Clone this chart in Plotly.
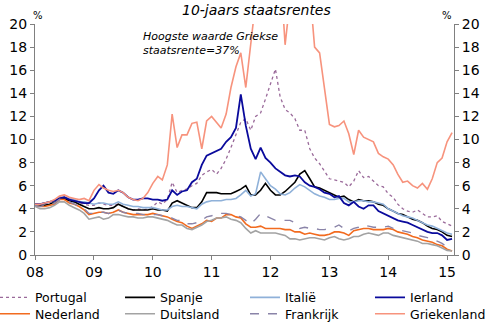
import pandas as pd
import plotly.graph_objects as go

dates = pd.date_range("2008-01-01", "2015-02-01", freq="MS")

portugal = [4.4, 4.4, 4.5, 4.6, 4.7, 5.0, 5.0, 4.8, 4.7, 4.5, 4.4, 4.3,
            4.3, 4.5, 4.4, 4.3, 4.3, 4.4, 4.2, 4.0, 3.9, 4.0, 3.9, 4.0,
            4.2, 4.6, 4.4, 4.8, 6.3, 5.4, 5.6, 5.7, 6.0, 6.2, 6.9, 7.2,
            7.4, 7.0, 7.5, 8.3, 9.3, 10.5, 11.5, 11.8, 10.8, 12.0, 12.3, 13.5,
            14.8, 16.1, 13.7, 12.6, 12.3, 11.8, 10.8, 10.8, 9.2, 8.4, 7.9, 7.2,
            6.6, 6.5, 6.4, 6.3, 5.9, 6.4, 7.3, 6.7, 6.8, 6.4, 6.0, 5.9,
            5.3, 5.0, 4.4, 4.0, 3.8, 3.7, 3.9, 3.6, 3.3, 3.3, 3.4, 2.9,
            2.7, 2.5]
spanje = [4.3, 4.3, 4.3, 4.4, 4.6, 4.9, 4.9, 4.7, 4.6, 4.4, 4.2, 4.0,
          4.0, 4.1, 4.0, 4.0, 4.1, 4.4, 4.2, 4.0, 3.9, 3.9, 3.9, 3.9,
          4.0, 3.9, 3.9, 3.8, 4.5, 4.7, 4.5, 4.3, 4.1, 4.1, 4.6, 5.4,
          5.4, 5.4, 5.3, 5.3, 5.3, 5.5, 5.7, 6.0, 5.2, 5.2, 5.6, 6.2,
          5.6, 5.2, 5.2, 5.5, 5.9, 6.3, 7.0, 7.3, 6.6, 5.9, 5.8, 5.6,
          5.4, 5.2, 5.0, 5.1, 4.8, 4.6, 4.8, 4.7, 4.7, 4.6, 4.4, 4.3,
          4.0, 3.8, 3.6, 3.5, 3.3, 3.1, 3.0, 2.8, 2.5, 2.3, 2.2, 2.0,
          1.7, 1.6]
italie = [4.4, 4.4, 4.5, 4.6, 4.7, 5.0, 5.0, 4.9, 4.8, 4.6, 4.6, 4.5,
          4.4, 4.5, 4.5, 4.4, 4.4, 4.6, 4.4, 4.3, 4.2, 4.2, 4.1, 4.1,
          4.1, 4.0, 3.9, 3.9, 4.2, 4.3, 4.2, 4.2, 4.1, 4.0, 4.4, 4.6,
          4.7, 4.7, 4.7, 4.8, 4.8, 4.9, 5.2, 5.6, 5.1, 5.3, 7.2, 6.6,
          6.0, 5.7, 5.3, 5.2, 5.4, 5.8, 6.1, 5.9, 5.6, 5.3, 5.1, 5.0,
          4.8, 4.8, 4.9, 4.9, 4.6, 4.6, 4.7, 4.7, 4.6, 4.6, 4.5, 4.4,
          4.0, 3.8, 3.6, 3.4, 3.3, 3.2, 3.0, 2.8, 2.6, 2.5, 2.3, 2.1,
          1.9, 1.8]
ierland = [4.4, 4.4, 4.5, 4.6, 4.7, 4.9, 5.0, 4.8, 4.7, 4.6, 4.5, 4.5,
           4.9, 5.6, 6.0, 5.4, 5.3, 5.6, 5.4, 5.0, 4.8, 4.8, 4.9, 4.9,
           4.8, 4.8, 4.7, 4.8, 5.6, 5.2, 5.5, 5.6, 6.3, 6.6, 7.8, 8.6,
           8.8, 9.0, 9.2, 9.8, 10.2, 11.0, 13.9, 11.2, 9.2, 8.3, 9.3, 8.4,
           8.0, 7.5, 7.2, 6.9, 6.8, 6.9, 6.8, 6.3, 6.0, 5.9, 5.7, 5.4,
           5.3, 5.0, 5.1, 4.5, 4.3, 4.6, 4.2, 4.0, 4.3, 4.3, 3.8, 3.6,
           3.4, 3.2, 3.0, 2.9, 2.8, 2.6, 2.4, 2.2, 2.0, 1.9, 1.9, 1.7,
           1.3, 1.4]
nederland = [4.3, 4.2, 4.2, 4.3, 4.4, 4.8, 4.8, 4.5, 4.4, 4.2, 3.9, 3.5,
             3.6, 3.7, 3.7, 3.6, 3.7, 3.9, 3.7, 3.6, 3.5, 3.5, 3.5, 3.5,
             3.6, 3.5, 3.4, 3.3, 3.1, 2.9, 2.8, 2.5, 2.3, 2.5, 2.7, 3.0,
             2.9, 3.2, 3.2, 3.5, 3.5, 3.3, 3.2, 2.7, 2.4, 2.4, 2.5, 2.3,
             2.3, 2.3, 2.3, 2.2, 2.2, 2.0, 2.0, 1.8, 1.9, 1.8, 1.7, 1.7,
             1.8, 2.0, 2.0, 1.9, 1.7, 2.1, 2.2, 2.3, 2.3, 2.2, 2.2, 2.2,
             2.3, 2.2, 2.0, 1.9, 1.8, 1.6, 1.5, 1.3, 1.2, 1.1, 0.9, 0.8,
             0.5, 0.35]
duitsland = [4.2, 4.0, 4.0, 4.1, 4.3, 4.6, 4.6, 4.3, 4.1, 3.9, 3.6, 3.1,
             3.2, 3.3, 3.1, 3.2, 3.5, 3.5, 3.4, 3.3, 3.3, 3.2, 3.2, 3.3,
             3.3, 3.2, 3.1, 3.0, 2.8, 2.6, 2.6, 2.3, 2.2, 2.4, 2.6, 2.9,
             3.0, 3.2, 3.2, 3.3, 3.1, 3.0, 2.8, 2.3, 1.9, 2.1, 1.9, 1.9,
             1.9, 1.9, 1.8, 1.7, 1.4, 1.4, 1.3, 1.4, 1.5, 1.5, 1.4, 1.3,
             1.5, 1.6, 1.4, 1.3, 1.4, 1.6, 1.6, 1.8, 1.9, 1.8, 1.7, 1.9,
             1.9, 1.7, 1.6, 1.5, 1.4, 1.3, 1.2, 1.0, 1.0, 0.9, 0.8, 0.6,
             0.4, 0.35]
frankrijk = [4.3, 4.2, 4.3, 4.4, 4.5, 4.8, 4.8, 4.6, 4.4, 4.2, 4.0, 3.6,
             3.6, 3.7, 3.7, 3.6, 3.7, 3.9, 3.7, 3.6, 3.6, 3.6, 3.5, 3.5,
             3.5, 3.5, 3.4, 3.4, 3.2, 3.0, 3.0, 2.7, 2.7, 2.8, 3.0, 3.3,
             3.4, 3.6, 3.6, 3.6, 3.5, 3.4, 3.3, 3.0, 2.7, 3.1, 3.6, 3.4,
             3.2, 3.0, 3.0, 3.0, 3.0, 2.8, 2.3, 2.4, 2.3, 2.3, 2.2, 2.2,
             2.3, 2.4, 2.6, 2.3, 2.1, 2.3, 2.4, 2.6, 2.5, 2.4, 2.4, 2.4,
             2.5, 2.3, 2.2, 2.1, 2.0, 1.9, 1.7, 1.6, 1.5, 1.3, 1.2, 1.0,
             0.7, 0.6]
griekenland = [4.4, 4.4, 4.5, 4.6, 4.8, 5.1, 5.2, 5.0, 4.9, 4.8, 4.9, 4.7,
               5.6, 6.1, 5.8, 5.6, 5.5, 5.6, 5.4, 5.0, 4.8, 4.7, 4.9, 5.4,
               6.2, 6.8, 6.5, 7.8, 12.2, 9.3, 10.4, 10.4, 11.4, 11.5, 9.2, 11.6,
               12.0, 11.5, 11.0, 12.2, 14.5, 16.3, 17.5, 14.5, 18.0, 22.0, 25.0, 30.0,
               34.0, 37.0, 25.0, 18.2, 22.0, 28.0, 27.0, 26.0, 23.0, 18.0, 17.5, 14.5,
               11.3, 11.1, 11.2, 11.6, 10.5, 8.7, 10.8, 10.2, 10.0, 9.8, 8.8, 8.5,
               8.3, 7.8, 7.0, 6.3, 6.4, 6.0, 5.8, 6.2, 5.7, 6.6, 8.0, 8.4,
               9.8, 10.6]

year_ticks = ["2008-01-01", "2009-01-01", "2010-01-01", "2011-01-01",
              "2012-01-01", "2013-01-01", "2014-01-01", "2015-01-01"]
year_labels = ["08", "09", "10", "11", "12", "13", "14", "15"]
y_ticks = [0, 2, 4, 6, 8, 10, 12, 14, 16, 18, 20]

series = [
    ("Portugal", portugal, dict(color="#9A6A9A", width=1.3, dash="dot")),
    ("Spanje", spanje, dict(color="#000000", width=1.6)),
    ("Italië", italie, dict(color="#8FB1D9", width=1.6)),
    ("Ierland", ierland, dict(color="#0A0A9C", width=1.8)),
    ("Nederland", nederland, dict(color="#F26B1F", width=1.6)),
    ("Duitsland", duitsland, dict(color="#A3A3A3", width=1.6)),
    ("Frankrijk", frankrijk, dict(color="#8A84A8", width=1.4, dash="dash")),
    ("Griekenland", griekenland, dict(color="#F7937D", width=1.6)),
]

# legend grid: 4 columns x 2 rows (paper coordinates)
legend_cols = [-0.0955, 0.2029, 0.5012, 0.7995]
legend_rows = [-0.185, -0.256]

fig = go.Figure()
legend_layout = {}
for i, (name, vals, line) in enumerate(series):
    key = "legend" if i == 0 else f"legend{i + 1}"
    fig.add_trace(go.Scatter(x=dates, y=vals, mode="lines", name=name, line=line, legend=key))

font = "DejaVu Sans, Verdana, sans-serif"
for i in range(len(series)):
    key = "legend" if i == 0 else f"legend{i + 1}"
    legend_layout[key] = dict(x=legend_cols[i % 4], y=legend_rows[i // 4],
                              xanchor="left", yanchor="middle", orientation="h",
                              font=dict(family=font, size=12.5, color="#000"),
                              bgcolor="rgba(0,0,0,0)")

axis_common = dict(showgrid=False, zeroline=False, showline=True, linecolor="#808080",
                   linewidth=1, ticks="outside", ticklen=4, tickcolor="#808080",
                   tickfont=dict(family=font, size=14, color="#000"))

fig.update_layout(
    width=492, height=323,
    margin=dict(l=35, r=38, t=24, b=68, autoexpand=False),
    paper_bgcolor="white", plot_bgcolor="white",
    font=dict(family=font, color="#000"),
    xaxis=dict(type="date", range=["2008-01-01", "2015-02-13"],
               tickvals=year_ticks, ticktext=year_labels, **axis_common),
    yaxis=dict(range=[0, 20], tickvals=y_ticks, **axis_common),
    yaxis2=dict(range=[0, 20], tickvals=y_ticks, overlaying="y", side="right",
                matches="y", **axis_common),
    showlegend=True,
    annotations=[
        dict(text="<i>10-jaars staatsrentes</i>", xref="paper", yref="paper",
             x=0.529, y=1.0, yshift=14, xanchor="center", yanchor="middle",
             showarrow=False, font=dict(family=font, size=14)),
        dict(text="<i>Hoogste waarde Griekse<br>staatsrente=37%</i>", xref="paper", yref="paper",
             x=0.253, y=0.982, xanchor="left", yanchor="top", align="left",
             showarrow=False, font=dict(family=font, size=11)),
        dict(text="%", xref="paper", yref="paper", x=0.007, y=1.0, yshift=9,
             xanchor="center", yanchor="middle", showarrow=False,
             font=dict(family=font, size=10)),
        dict(text="%", xref="paper", yref="paper", x=0.983, y=1.0, yshift=9,
             xanchor="center", yanchor="middle", showarrow=False,
             font=dict(family=font, size=10)),
    ],
    **legend_layout,
)
# invisible trace to anchor the right-hand axis
fig.add_trace(go.Scatter(x=[dates[0]], y=[griekenland[0]], yaxis="y2", mode="lines",
                         showlegend=False, hoverinfo="skip", line=dict(width=0)))

fig.write_html("out.html")
